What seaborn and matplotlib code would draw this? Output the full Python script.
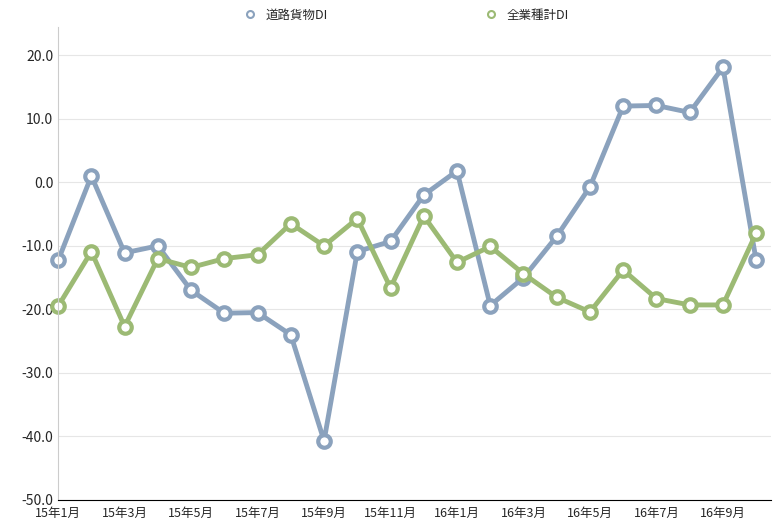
import matplotlib
matplotlib.use("Agg")
import matplotlib.pyplot as plt
import seaborn as sns
import pandas as pd

months = ["15年1月","15年2月","15年3月","15年4月","15年5月","15年6月","15年7月","15年8月","15年9月","15年10月","15年11月","15年12月",
          "16年1月","16年2月","16年3月","16年4月","16年5月","16年6月","16年7月","16年8月","16年9月","16年10月"]
road = [-12.3,1.0,-11.1,-10.0,-17.0,-20.6,-20.5,-24.0,-40.7,-10.9,-9.3,-2.0,1.8,-19.4,-15.0,-8.5,-0.7,12.0,12.1,11.0,18.1,-12.3]
allind = [-19.5,-10.9,-22.7,-12.0,-13.4,-12.0,-11.4,-6.5,-10.0,-5.7,-16.6,-5.3,-12.6,-10.1,-14.4,-18.1,-20.4,-13.8,-18.3,-19.3,-19.3,-8.0]
series = ["道路貨物DI","全業種計DI"]

sns.set_style("white")
plt.rcParams['font.family'] = ['Noto Sans CJK JP', 'DejaVu Sans']

df = pd.DataFrame({"x": list(range(len(months)))*2,
                   "v": road+allind,
                   "s": [series[0]]*len(months)+[series[1]]*len(months)})
fig = plt.figure(figsize=(7.75,5.23), dpi=100)
ax = fig.add_axes([0.075, 0.044, 0.92, 0.905])
pal = {series[0]: "#8ba2bd", series[1]: "#9cba74"}
sns.lineplot(data=df, x="x", y="v", hue="s", palette=pal, lw=3.5, marker="o", ms=9,
             markerfacecolor="white", markeredgewidth=3, ax=ax, legend=False)
for s in series:
    ax.lines[series.index(s)].set_markeredgecolor(pal[s])
    ax.lines[series.index(s)].set_clip_on(False)
ax.set_ylim(-50, 24.5)
ax.set_xlim(0, len(months)-0.55)
ax.set_yticks(range(-50, 21, 10))
ax.set_yticklabels([f"{v:.1f}" for v in range(-50, 21, 10)], fontsize=10)
ax.set_xticks(range(0, len(months), 2))
ax.set_xticklabels(months[::2], fontsize=9)
ax.yaxis.grid(True, color="#e6e6e6", lw=0.8)
for sp in ["top","right"]:
    ax.spines[sp].set_visible(False)
ax.spines["left"].set_color("#cccccc")
ax.spines["bottom"].set_color("black")
ax.tick_params(axis="x", length=4, color="black", pad=1)
ax.tick_params(axis="y", length=0)
ax.set_xlabel(""); ax.set_ylabel("")
from matplotlib.lines import Line2D
handles = [Line2D([], [], marker="o", ls="", ms=5, markerfacecolor="white", markeredgewidth=1.5, markeredgecolor=pal[s]) for s in series]
fig.legend(handles, series, loc="upper center", bbox_to_anchor=(0.52, 1.005), ncol=2, frameon=False,
           fontsize=9, columnspacing=12, handletextpad=0.3)
fig.savefig("out.png", dpi=100)
